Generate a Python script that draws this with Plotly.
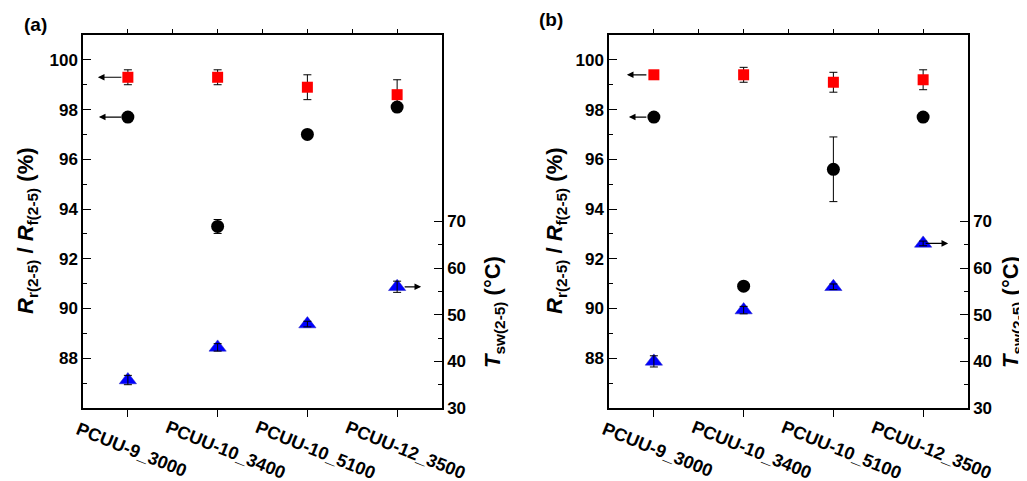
import plotly.graph_objects as go

categories = ["PCUU-9_3000", "PCUU-10_3400", "PCUU-10_5100", "PCUU-12_3500"]
xi = list(range(len(categories)))

# panel (a)
a_Rf = [99.3, 99.3, 98.9, 98.6]
a_Rf_err = [0.3, 0.3, 0.5, 0.6]
a_Rr = [97.7, 93.3, 97.0, 98.1]
a_Rr_err = [0.05, 0.28, 0.1, 0.1]
a_Tsw = [36.0, 43.0, 48.0, 56.0]
a_Tsw_err = [1.0, 0.8, 0.6, 1.2]

# panel (b)
b_Rf = [99.4, 99.4, 99.1, 99.2]
b_Rf_err = [0.15, 0.3, 0.4, 0.4]
b_Rr = [97.7, 90.9, 95.6, 97.7]
b_Rr_err = [0.1, 0.1, 1.3, 0.1]
b_Tsw = [40.0, 51.0, 56.0, 65.3]
b_Tsw_err = [1.2, 0.8, 0.6, 0.5]

left_ticks = [88, 90, 92, 94, 96, 98, 100]
right_ticks = [30, 40, 50, 60, 70]

FONT = "Arial, Liberation Sans, sans-serif"

# page body has an 8px margin; plot area in window pixels: x 83..968, y 35..408
BODY = 8
PL, PR, PT, PB = 83, 968, 35, 408
W, H = 1027 - BODY, 481 - BODY


def px(xw):
    return (xw - PL) / (PR - PL)


def py(yw):
    return (PB - yw) / (PB - PT)


fig = go.Figure()


def add_panel(xa, ya_l, ya_r, Rf, Rf_e, Rr, Rr_e, T, T_e):
    eb = dict(type="data", visible=True, color="black", thickness=1, width=4)
    fig.add_trace(go.Scatter(x=xi, y=Rr, mode="markers", xaxis=xa, yaxis=ya_l,
                             marker=dict(symbol="circle", size=13, color="black"),
                             error_y=dict(array=Rr_e, **eb), showlegend=False))
    fig.add_trace(go.Scatter(x=xi, y=Rf, mode="markers", xaxis=xa, yaxis=ya_l,
                             marker=dict(symbol="square", size=11, color="#ff0000"),
                             error_y=dict(array=Rf_e, **eb), showlegend=False))
    fig.add_trace(go.Scatter(x=xi, y=T, mode="markers", xaxis=xa, yaxis=ya_r,
                             marker=dict(symbol="triangle-up", size=15, color="#0000ff",
                                         line=dict(color="#2020c0", width=0.5)),
                             showlegend=False))
    # error bars drawn over the triangles
    fig.add_trace(go.Scatter(x=xi, y=T, mode="markers", xaxis=xa, yaxis=ya_r,
                             marker=dict(size=1, color="rgba(0,0,0,0)"),
                             error_y=dict(array=T_e, **eb), showlegend=False))


add_panel("x", "y", "y2", a_Rf, a_Rf_err, a_Rr, a_Rr_err, a_Tsw, a_Tsw_err)
add_panel("x2", "y3", "y4", b_Rf, b_Rf_err, b_Rr, b_Rr_err, b_Tsw, b_Tsw_err)

dom_a = [0.0, px(442)]
dom_b = [px(609), 1.0]

xbase = dict(range=[-0.5, 3.5], showline=True, linecolor="black", linewidth=1.5,
             showgrid=False, zeroline=False, tickvals=xi, showticklabels=False,
             ticks="outside", ticklen=7, tickwidth=1.2, tickcolor="black")
xtop = dict(range=[-0.5, 3.5], showline=True, linecolor="black", linewidth=1.5,
            showgrid=False, zeroline=False, side="top",
            tickvals=[v / 2 for v in range(0, 7)], showticklabels=False,
            ticks="outside", ticklen=4, tickwidth=1, tickcolor="black")
yleft = dict(range=[86, 101], showline=True, linecolor="black", linewidth=1.5,
             showgrid=False, zeroline=False, tickvals=left_ticks,
             ticks="inside", ticklen=8, tickwidth=1.2, tickcolor="black",
             minor=dict(tickvals=[87, 89, 91, 93, 95, 97, 99], ticks="inside",
                        ticklen=4, tickwidth=1, tickcolor="black"),
             tickfont=dict(family=FONT, size=17, color="black", weight="bold"))
yright = dict(range=[30, 110], showline=True, linecolor="black", linewidth=1.5,
              showgrid=False, zeroline=False, side="right", tickvals=right_ticks,
              ticks="inside", ticklen=8, tickwidth=1.2, tickcolor="black",
              minor=dict(tickvals=[35, 45, 55, 65], ticks="inside",
                         ticklen=4, tickwidth=1, tickcolor="black"),
              tickfont=dict(family=FONT, size=17, color="black", weight="bold"))

fig.update_layout(
    width=W, height=H,
    margin=dict(l=PL - BODY, r=W - (PR - BODY), t=PT - BODY, b=H - (PB - BODY)),
    paper_bgcolor="white", plot_bgcolor="white",
    font=dict(family=FONT, color="black"),
    xaxis=dict(domain=dom_a, anchor="y", **xbase),
    xaxis2=dict(domain=dom_b, anchor="y3", **xbase),
    xaxis3=dict(domain=dom_a, anchor="y", overlaying="x", **xtop),
    xaxis4=dict(domain=dom_b, anchor="y3", overlaying="x2", **xtop),
    yaxis=dict(anchor="x", **yleft),
    yaxis2=dict(anchor="x", overlaying="y", **yright),
    yaxis3=dict(anchor="x2", **yleft),
    yaxis4=dict(anchor="x2", overlaying="y3", **yright),
)

# invisible traces so the top axes render
fig.add_trace(go.Scatter(x=[0], y=[90], xaxis="x3", yaxis="y", mode="markers",
                         marker=dict(size=1, color="rgba(0,0,0,0)"), showlegend=False, hoverinfo="skip"))
fig.add_trace(go.Scatter(x=[0], y=[90], xaxis="x4", yaxis="y3", mode="markers",
                         marker=dict(size=1, color="rgba(0,0,0,0)"), showlegend=False, hoverinfo="skip"))

ann = []
# category labels (rotated, centred slightly right of the tick)
for xr in ["x", "x2"]:
    for i, c in enumerate(categories):
        ann.append(dict(x=i, xref=xr, y=0, yref="paper", text="<b>" + c + "</b>",
                        showarrow=False, textangle=22, xanchor="center", yanchor="middle",
                        xshift=4 + 4 * (len(c) - 11), yshift=-42,
                        font=dict(family=FONT, size=18, color="black")))


def arrow(xr, yr, xv, yv, head_shift, tail_offset):
    return dict(x=xv, y=yv, xref=xr, yref=yr, text="", showarrow=True,
                arrowhead=2, arrowsize=1.1, arrowwidth=1.2, arrowcolor="black",
                xshift=head_shift, ax=tail_offset, ay=0)


ann.append(arrow("x", "y", 0, a_Rf[0], -30, 25))
ann.append(arrow("x", "y", 0, a_Rr[0], -29, 24))
ann.append(arrow("x", "y2", 3, a_Tsw[3], 24, -18))
ann.append(arrow("x2", "y3", 0, b_Rf[0], -27, 21))
ann.append(arrow("x2", "y3", 0, b_Rr[0], -25, 19))
ann.append(arrow("x2", "y4", 3, b_Tsw[3], 25, -24))

# panel letters
ann.append(dict(x=px(35), y=py(25), xref="paper", yref="paper", text="<b>(a)</b>",
                showarrow=False, xanchor="center", yanchor="middle",
                font=dict(family=FONT, size=19, color="black")))
ann.append(dict(x=px(551), y=py(20), xref="paper", yref="paper", text="<b>(b)</b>",
                showarrow=False, xanchor="center", yanchor="middle",
                font=dict(family=FONT, size=19, color="black")))

# axis titles
ltitle = "<b><i>R</i><sub>r(2-5)</sub> / <i>R</i><sub>f(2-5)</sub> (%)</b>"
rtitle = "<b><i>T</i><sub>sw(2-5)</sub> (°C)</b>"
for xw, yw, txt in [(27, 231, ltitle), (556, 231, ltitle), (494, 312, rtitle), (1012, 312, rtitle)]:
    ann.append(dict(x=px(xw), y=py(yw), xref="paper", yref="paper", text=txt,
                    showarrow=False, textangle=-90, xanchor="center", yanchor="middle",
                    font=dict(family=FONT, size=22, color="black")))

fig.update_layout(annotations=ann)
fig.write_html("out.html")
